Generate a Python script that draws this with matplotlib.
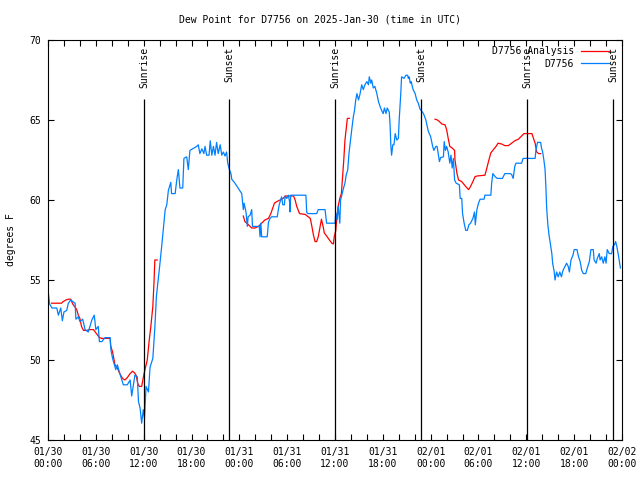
import numpy as np
import matplotlib
matplotlib.use("Agg")
import matplotlib.pyplot as plt
from matplotlib.ticker import MultipleLocator, FixedLocator

# hours since 2025-01-30 00:00 UTC
obs_hours = [0.0, 0.2, 0.5, 1.1, 1.3, 1.6, 1.8, 2.0, 2.35, 2.55, 2.85, 3.4, 3.5, 3.8, 4.0, 4.35, 4.65,
             5.05, 5.5, 5.8, 6.0, 6.3, 6.45, 6.75, 7.15, 7.8, 7.9, 8.1, 8.5, 8.7, 8.95, 9.45, 9.95,
             10.3, 10.5, 10.9, 11.2, 11.35, 11.55, 11.75, 11.95, 12.1, 12.3, 12.6, 12.8, 13.15, 13.4,
             13.6, 13.95, 14.25, 14.45, 14.7, 14.9, 15.1, 15.4, 15.5, 15.95, 16.15, 16.35, 16.55, 16.9,
             17.05, 17.4, 17.6, 17.8, 18.65, 18.85, 19.05, 19.3, 19.55, 19.7, 19.9, 20.2, 20.35, 20.55,
             20.75, 20.95, 21.15, 21.35, 21.6, 21.8, 22.0, 22.2, 22.4, 22.55, 22.75, 22.95, 23.05, 23.45,
             23.9, 24.3, 24.5, 24.6, 24.85, 25.0, 25.1, 25.35, 25.55, 25.65, 26.5, 26.6, 26.7, 26.8,
             27.5, 27.65, 27.85, 28.05, 28.75, 29.0, 29.3, 29.45, 29.65, 29.75, 29.95, 30.15, 30.3,
             30.35, 30.45, 32.35, 32.45, 32.55, 33.7, 33.9, 34.75, 34.95, 35.6, 36.0, 36.1, 36.25,
             36.4, 36.6, 36.7, 36.9, 37.1, 37.25, 37.4, 37.6, 37.75, 37.9, 38.1, 38.3, 38.45, 38.6,
             38.75, 38.95, 39.15, 39.35, 39.55, 39.75, 40.0, 40.2, 40.3, 40.5, 40.6, 40.8, 41.0, 41.25,
             41.45, 41.65, 41.85, 42.05, 42.2, 42.4, 42.55, 42.8, 42.9, 43.0, 43.1, 43.25, 43.4, 43.55,
             43.75, 43.95, 44.05, 44.25, 44.35, 44.65, 44.9, 45.1, 45.2, 45.3, 45.45, 45.55, 45.8,
             46.05, 46.25, 46.45, 46.65, 47.1, 47.4, 47.7, 48.0, 48.25, 48.4, 48.65, 48.8, 48.95, 49.1,
             49.25, 49.6, 49.7, 49.85, 50.0, 50.2, 50.4, 50.55, 50.7, 50.85, 51.0, 51.2, 51.6, 51.7,
             51.9, 52.0, 52.2, 52.4, 52.6, 52.8, 53.0, 53.3, 53.5, 53.6, 53.8, 54.0, 54.2, 54.7, 54.8,
             55.55, 55.65, 55.8, 56.1, 56.35, 57.0, 57.3, 57.95, 58.15, 58.35, 58.55, 58.7, 59.4, 59.6,
             61.1, 61.2, 61.4, 61.8, 61.9, 62.05, 62.2, 62.35, 62.45, 62.55, 62.7, 62.85, 63.0, 63.2,
             63.3, 63.5, 63.6, 63.8, 64.0, 64.2, 64.4, 64.6, 64.85, 65.05, 65.25, 65.4, 65.6, 65.85,
             66.0, 66.35, 66.55, 66.75, 66.95, 67.15, 67.45, 67.65, 67.9, 68.1, 68.4, 68.5, 68.75,
             68.9, 69.15, 69.25, 69.45, 69.65, 69.85, 70.0, 70.15, 70.4, 70.7, 70.85, 71.05, 71.2,
             71.35, 71.55, 71.7, 71.8]
obs_dewpt = [54.4, 53.5, 53.25, 53.25, 52.8, 53.25, 52.45, 53.0, 53.1, 53.55, 53.75, 53.55, 52.55, 52.7,
             52.4, 52.55, 51.9, 51.75, 52.5, 52.8, 51.9, 52.1, 51.15, 51.15, 51.4, 51.4, 50.6, 50.1,
             49.4, 49.7, 49.25, 48.45, 48.45, 48.75, 47.75, 49.05, 48.95, 47.4, 47.0, 46.05, 46.9,
             46.35, 48.35, 48.0, 49.55, 50.1, 52.0, 54.0, 55.6, 57.05, 58.1, 59.4, 59.7, 60.6, 61.1,
             60.4, 60.4, 61.25, 61.9, 60.75, 60.75, 62.6, 62.7, 61.9, 63.1, 63.35, 63.45, 62.9, 63.2,
             62.9, 63.35, 62.8, 62.8, 63.7, 62.8, 63.35, 62.8, 63.6, 62.9, 63.45, 62.8, 63.0, 62.75,
             63.0, 62.3, 61.9, 61.65, 61.3, 61.05, 60.7, 60.4, 59.4, 59.8, 59.2, 58.35, 58.95, 59.05,
             59.4, 58.35, 58.35, 57.7, 58.55, 57.7, 57.7, 58.6, 58.85, 58.95, 58.95, 59.7, 60.2, 59.7,
             59.7, 60.25, 60.1, 60.3, 59.9, 59.25, 60.3, 60.3, 59.25, 59.15, 59.15, 59.4, 59.4, 58.55,
             58.55, 58.55, 59.2, 58.75, 59.6, 58.55, 60.0, 60.4, 60.8, 61.05, 61.55, 61.9, 62.9, 63.55,
             64.4, 65.2, 65.6, 66.25, 66.65, 66.25, 66.65, 67.2, 66.9, 67.2, 67.4, 67.2, 67.7, 67.3,
             67.5, 67.0, 67.1, 66.65, 66.15, 65.85, 65.6, 65.4, 65.75, 65.4, 65.75, 65.5, 64.8, 63.45,
             62.8, 63.45, 63.45, 64.15, 63.75, 63.85, 65.0, 66.65, 67.7, 67.6, 67.8, 67.8, 67.6, 67.7,
             67.3, 67.4, 66.9, 66.65, 66.25, 66.05, 65.7, 65.4, 65.0, 64.3, 63.95, 63.35, 63.1, 63.35,
             63.35, 62.9, 62.4, 62.65, 62.7, 63.65, 63.1, 63.35, 63.0, 62.3, 62.8, 62.0, 62.6, 61.25,
             61.05, 60.95, 60.1, 60.1, 59.15, 58.55, 58.1, 58.1, 58.45, 58.55, 58.85, 59.25, 58.45,
             59.4, 59.8, 60.05, 60.05, 60.3, 60.3, 61.05, 61.65, 61.45, 61.35, 61.35, 61.65, 61.65,
             61.6, 61.35, 62.1, 62.3, 62.3, 62.6, 62.6, 63.1, 63.6, 63.6, 63.25, 63.0, 62.5, 61.9,
             60.85, 59.5, 58.45, 57.8, 57.3, 56.65, 56.05, 55.5, 55.0, 55.5, 55.2, 55.5, 55.2, 55.6,
             55.85, 56.05, 55.85, 55.5, 56.25, 56.55, 56.9, 56.9, 56.45, 56.15, 55.6, 55.4, 55.4,
             55.75, 56.15, 56.9, 56.9, 56.25, 56.05, 56.35, 56.65, 56.25, 56.45, 56.05, 56.45, 56.05,
             56.9, 56.65, 56.65, 57.1, 57.2, 57.4, 57.1, 56.55, 56.05, 55.75]

nan = np.nan
ana_hours = [0.45, 1.7, 1.9, 2.25, 2.55, 2.85, 3.1, 3.4, 3.6, 3.8, 4.0, 4.2, 4.45, 4.85, 5.2, 5.7, 6.0,
             6.45, 6.75, 7.8, 7.85, 8.1, 8.4, 8.7, 9.0, 9.35, 9.65, 9.95, 10.3, 10.6, 10.85, 11.05,
             11.25, 11.45, 11.75, 11.9, 12.05, 12.3, 12.45, 12.7, 12.9, 13.15, 13.3, 13.4, 13.7, 19.0,
             24.5, 24.7, 25.15, 25.55, 25.95, 26.4, 26.8, 27.2, 27.65, 27.95, 28.2, 28.4, 28.7, 29.1,
             29.5, 29.75, 30.8, 31.0, 31.2, 31.55, 32.25, 32.65, 32.9, 33.1, 33.3, 33.5, 33.7, 33.9,
             34.1, 34.3, 34.55, 34.65, 34.95, 35.3, 35.6, 35.8, 35.9, 36.1, 36.2, 36.4, 36.6, 36.8,
             36.95, 37.1, 37.25, 37.4, 37.55, 37.8, 43.0,
             48.55, 48.85, 49.1, 49.4, 49.8, 50.0, 50.2, 50.4, 50.7, 51.0, 51.05, 51.3, 51.5, 51.9,
             52.3, 52.75, 52.95, 53.3, 53.55, 53.8, 54.8, 55.0, 55.25, 55.55, 55.8, 56.2, 56.45, 56.9,
             57.3, 57.75, 58.15, 58.55, 59.0, 59.4, 59.7, 60.7, 60.9, 61.1, 61.3, 61.55, 61.8]
ana_dewpt = [53.55, 53.55, 53.65, 53.75, 53.8, 53.8, 53.5, 53.3, 53.15, 52.8, 52.6, 52.1, 51.85, 51.85,
             51.9, 51.9, 51.7, 51.4, 51.35, 51.35, 50.9, 50.5, 49.7, 49.5, 49.15, 48.85, 48.75, 48.9,
             49.15, 49.3, 49.2, 49.05, 48.55, 48.35, 48.35, 48.75, 49.15, 49.7, 50.0, 51.25, 52.1,
             53.35, 54.9, 56.25, 56.25, nan,
             59.0, 58.65, 58.45, 58.25, 58.25, 58.35, 58.55, 58.75, 58.85, 59.15, 59.5, 59.8, 59.9,
             60.0, 60.1, 60.25, 60.25, 60.0, 59.6, 59.15, 59.1, 58.95, 58.85, 58.35, 57.8, 57.4, 57.4,
             57.7, 58.25, 58.8, 58.25, 57.95, 57.75, 57.5, 57.3, 57.25, 57.7, 58.1, 58.75, 59.6, 60.1,
             60.4, 61.45, 62.5, 63.75, 64.4, 65.1, 65.1, nan,
             65.05, 65.0, 64.9, 64.75, 64.7, 64.4, 63.85, 63.35, 63.25, 63.1, 62.5, 61.65, 61.25,
             61.15, 60.9, 60.65, 60.8, 61.15, 61.45, 61.5, 61.55, 61.9, 62.4, 62.95, 63.1, 63.35,
             63.55, 63.5, 63.4, 63.4, 63.55, 63.7, 63.8, 64.0, 64.15, 64.15, 63.85, 63.55, 63.0, 62.9,
             62.9]

sunrise_hours = [12.05, 36.03, 60.1]
sunset_hours = [22.72, 46.8, 70.92]

tick_hours = list(range(0, 73, 6))
tick_labels = ["01/30\n00:00", "01/30\n06:00", "01/30\n12:00", "01/30\n18:00",
               "01/31\n00:00", "01/31\n06:00", "01/31\n12:00", "01/31\n18:00",
               "02/01\n00:00", "02/01\n06:00", "02/01\n12:00", "02/01\n18:00",
               "02/02\n00:00"]

plt.rcParams['font.family'] = ['DejaVu Sans Mono']
plt.rcParams['font.size'] = 7

fig = plt.figure(figsize=(6.4, 4.8), dpi=100)
ax = fig.add_axes([48 / 640, 40 / 480, 574 / 640, 400 / 480])

ax.plot(ana_hours, ana_dewpt, color='#ff0000', lw=0.9, label='D7756 Analysis')
ax.plot(obs_hours, obs_dewpt, color='#0080ff', lw=0.9, label='D7756')

for h in sunrise_hours:
    ax.vlines(h, 45, 66.3, color='black', lw=0.9)
    ax.text(h, 69.55, 'Sunrise', rotation=90, ha='center', va='top', fontsize=7)
for h in sunset_hours:
    ax.vlines(h, 45, 66.3, color='black', lw=0.9)
    ax.text(h, 69.55, 'Sunset', rotation=90, ha='center', va='top', fontsize=7)

ax.set_xlim(0, 72)
ax.set_ylim(45, 70)
ax.xaxis.set_major_locator(FixedLocator(tick_hours))
ax.set_xticklabels(tick_labels)
ax.xaxis.set_minor_locator(MultipleLocator(2))
ax.yaxis.set_major_locator(MultipleLocator(5))
ax.tick_params(which='both', direction='in', top=True, right=True, length=4, width=0.8,
               labelsize=7, pad=5)
for s in ax.spines.values():
    s.set_linewidth(0.8)

fig.text(0.5, 1 - 19 / 480, 'Dew Point for D7756 on 2025-Jan-30 (time in UTC)',
         ha='center', va='center', fontsize=7)
fig.text(11 / 640, 0.5, 'degrees F', rotation=90, ha='center', va='center', fontsize=7)

ax.legend(loc='upper right', bbox_to_anchor=(0.977, 0.984), frameon=False, markerfirst=False,
          handlelength=2.9, handletextpad=0.7, labelspacing=0.25, borderaxespad=0,
          borderpad=0, fontsize=7)

fig.savefig('out.png', dpi=100)
